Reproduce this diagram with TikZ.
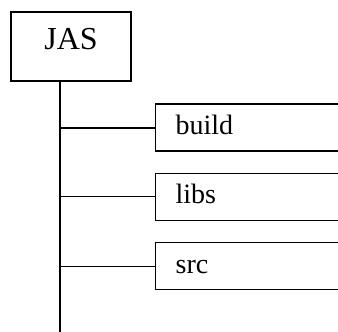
\documentclass[tikz,border=0pt]{standalone}
\usepackage{fontspec}
\setmainfont{Liberation Serif}
\usepackage{tikz}
\usetikzlibrary{positioning, calc}

\begin{document}
\begin{tikzpicture}[
    x=0.5pt, y=-0.5pt,
    root/.style={draw, line width=1pt, minimum width=60pt, minimum height=34.5pt, inner sep=0pt,
        font=\fontsize{16}{18}\selectfont, text height=0.7em, text depth=0.37em},
    folder/.style={draw, line width=0.65pt, anchor=west, minimum width=110pt, minimum height=23.5pt,
        inner xsep=10pt, inner ysep=0pt, text width=90pt, align=left,
        font=\fontsize{14}{16}\selectfont, text height=0.75em, text depth=0.04em},
    branch/.style={line width=0.7pt}
]
    \useasboundingbox (0,0) rectangle (338,332);
    \clip (0,0) rectangle (338,332);

    % Root folder
    \node[root] (jas) at (71,46.5) {JAS};

    % Sub folders
    \node[folder] (build) at (155,127.5) {build};
    \node[folder] (libs) at (155,196.7) {libs};
    \node[folder] (src) at (155,266.3) {src};

    % Tree lines
    \coordinate (stem) at (60,340);
    \draw[branch, line width=0.8pt] (jas.south -| stem) -- (stem);
    \draw[branch, line width=1pt] (build.west -| stem) -- (build.west);
    \draw[branch] (libs.west -| stem) -- (libs.west);
    \draw[branch] (src.west -| stem) -- (src.west);
\end{tikzpicture}
\end{document}
